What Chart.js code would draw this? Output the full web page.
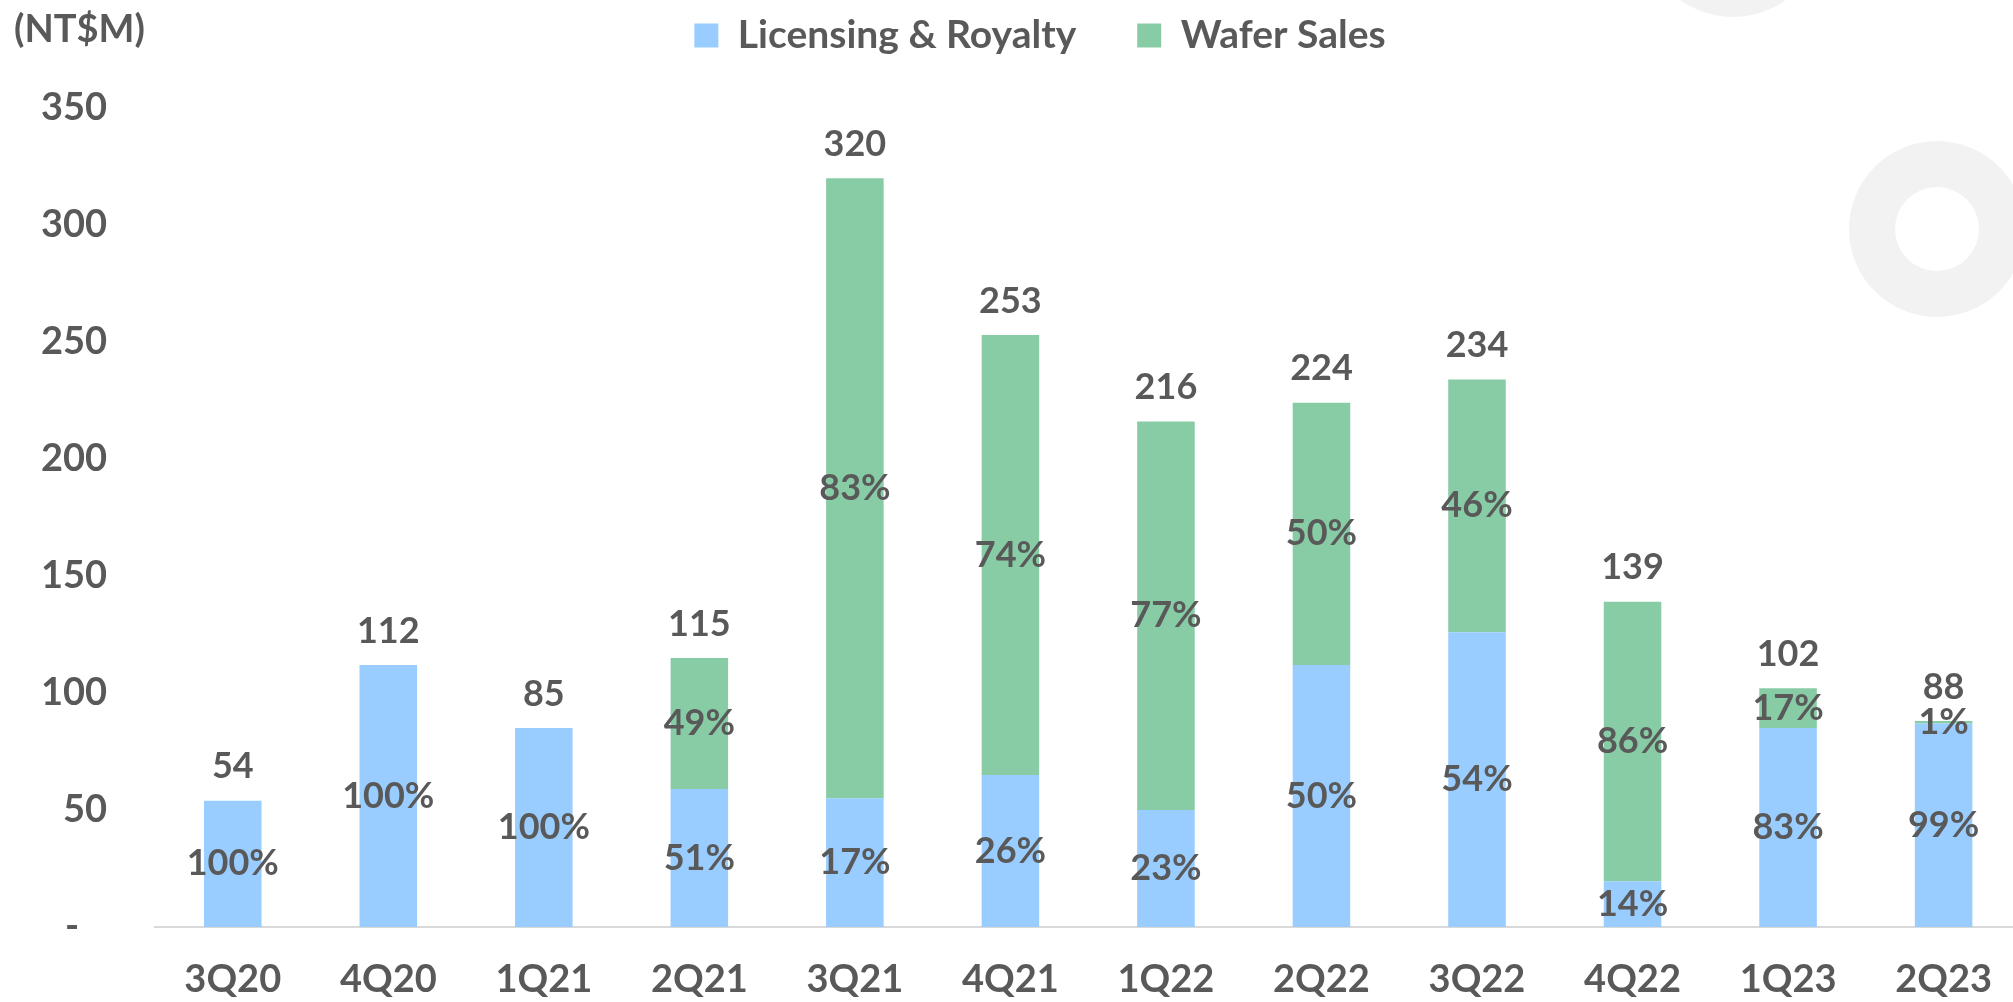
<!DOCTYPE html>
<html>
<head>
<meta charset="utf-8">
<script src="https://cdn.jsdelivr.net/npm/chart.js@4.4.0/dist/chart.umd.min.js"></script>
<style>
    html, body { margin: 0; padding: 0; background: #fff; overflow: hidden; }
    #wrap { position: relative; width: 2022px; height: 1002px; }
</style>
</head>
<body>
<div id="wrap"><canvas id="bar1" width="2022" height="1002"></canvas></div>
<script>
// dados (NT$M)
const quarters = ["3Q20", "4Q20", "1Q21", "2Q21", "3Q21", "4Q21", "1Q22", "2Q22", "3Q22", "4Q22", "1Q23", "2Q23"];
const licensing = [54, 112, 85, 59, 55, 65, 50, 112, 126, 19.5, 85, 87];
const wafer = [0, 0, 0, 56, 265, 188, 166, 112, 108, 119.5, 17, 1];
const totals = [54, 112, 85, 115, 320, 253, 216, 224, 234, 139, 102, 88];
const licensingPct = ["100%", "100%", "100%", "51%", "17%", "26%", "23%", "50%", "54%", "14%", "83%", "99%"];
const waferPct = [null, null, null, "49%", "83%", "74%", "77%", "50%", "46%", "86%", "17%", "1%"];
const yTicks = [0, 50, 100, 150, 200, 250, 300, 350];

const textColor = "#595959";
const fontFamily = "Lato, 'Open Sans', sans-serif";

// circulos decorativos do slide
const decoPlugin = {
    id: "deco",
    beforeDraw(chart) {
        const ctx = chart.ctx;
        ctx.save();
        ctx.fillStyle = "#F2F2F2";
        ctx.beginPath();
        ctx.arc(1733, -74, 91, 0, Math.PI * 2);
        ctx.fill();
        ctx.beginPath();
        ctx.arc(1937, 229, 88, 0, Math.PI * 2);
        ctx.arc(1937, 229, 42, 0, Math.PI * 2, true);
        ctx.fill();
        ctx.restore();
    }
};

// legenda: altura fixa e posicao como no slide
const legendPos = {
    id: "legendPos",
    beforeInit(chart) {
        const fit = chart.legend.fit;
        chart.legend.fit = function () {
            fit.call(this);
            this.height = 108;
        };
    },
    afterLayout(chart) {
        const lg = chart.legend;
        lg.top -= 45;
        lg.bottom -= 45;
        lg.left += 29;
        lg.right += 29;
    }
};

const labelPlugin = {
    id: "barLabels",
    afterDatasetsDraw(chart) {
        const ctx = chart.ctx;
        ctx.save();
        ctx.font = "bold 36px " + fontFamily;
        ctx.fillStyle = textColor;
        ctx.textAlign = "center";
        ctx.textBaseline = "middle";

        [licensingPct, waferPct].forEach((pcts, di) => {
            chart.getDatasetMeta(di).data.forEach((bar, i) => {
                if (!pcts[i]) return;
                ctx.fillText(pcts[i], bar.x, (bar.y + bar.base) / 2);
            });
        });

        const lower = chart.getDatasetMeta(0).data;
        chart.getDatasetMeta(1).data.forEach((bar, i) => {
            const top = Math.min(bar.y, lower[i].y);
            ctx.fillText(totals[i], bar.x, top - 34);
        });

        ctx.font = "bold 38px " + fontFamily;
        ctx.textAlign = "left";
        ctx.fillText("(NT$M)", 14, 30);
        ctx.restore();
    }
};

let ctx = document.getElementById("bar1").getContext("2d");
new Chart(ctx, {
    type: "bar",
    data: {
        labels: quarters,
        datasets: [{
            label: "Licensing & Royalty",
            data: licensing,
            backgroundColor: "#99CCFF"
        }, {
            label: "Wafer Sales",
            data: wafer,
            backgroundColor: "#88CCA6"
        }]
    },
    options: {
        responsive: false,
        animation: false,
        layout: { padding: 0 },
        datasets: {
            bar: { barPercentage: 0.37, categoryPercentage: 1 }
        },
        plugins: {
            legend: {
                position: "top",
                labels: {
                    boxWidth: 24,
                    boxHeight: 24,
                    padding: 61,
                    color: textColor,
                    font: { family: fontFamily, size: 39, weight: "bold" }
                }
            },
            tooltip: { enabled: false }
        },
        scales: {
            x: {
                stacked: true,
                grid: { display: false, drawTicks: false },
                border: { display: true, color: "#D9D9D9", width: 2 },
                afterFit(axis) { axis.height = 75; },
                ticks: {
                    padding: 30,
                    color: textColor,
                    font: { family: fontFamily, size: 38, weight: "bold" }
                }
            },
            y: {
                stacked: true,
                min: 0,
                max: 350,
                afterBuildTicks(axis) {
                    axis.ticks = yTicks.map(v => ({ value: v }));
                },
                afterFit(axis) { axis.width = 155; },
                grid: { display: false, drawTicks: false },
                border: { display: false },
                ticks: {
                    padding: 48,
                    color: textColor,
                    font: { family: fontFamily, size: 38, weight: "bold" },
                    callback: v => v === 0 ? "-   " : v
                }
            }
        }
    },
    plugins: [decoPlugin, legendPos, labelPlugin]
});
</script>
</body>
</html>
